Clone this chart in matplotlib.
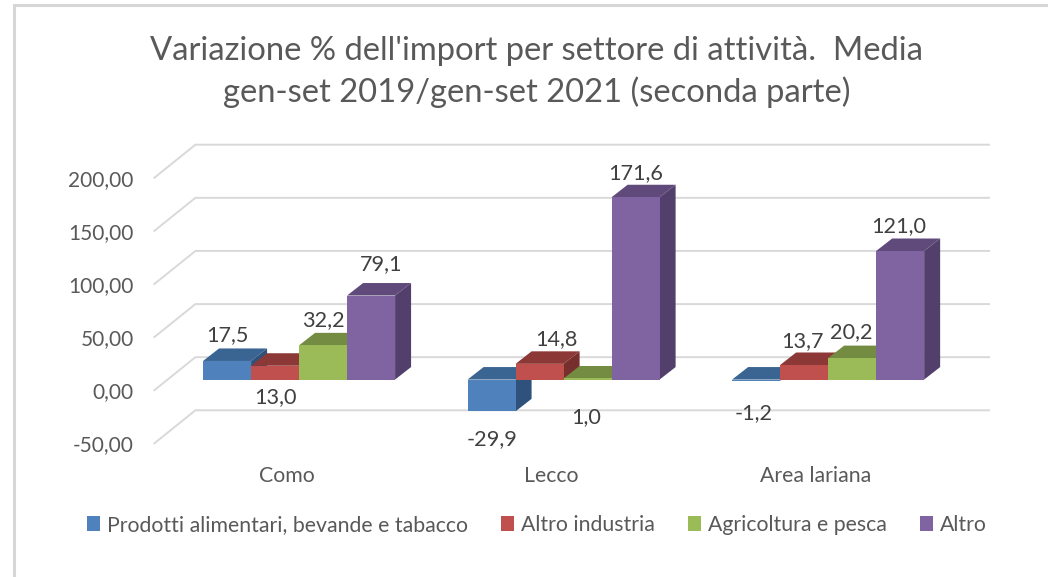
import matplotlib
matplotlib.use("Agg")
import matplotlib.pyplot as plt
from matplotlib.patches import Polygon, Rectangle

# ---- data ----
categories = ["Como", "Lecco", "Area lariana"]
series_names = ["Prodotti alimentari, bevande e tabacco", "Altro industria", "Agricoltura e pesca", "Altro"]
prodotti = [17.5, -29.9, -1.2]
industria = [13.0, 14.8, 13.7]
agricoltura = [32.2, 1.0, 20.2]
altro = [79.1, 171.6, 121.0]
y_ticks = [-50, 0, 50, 100, 150, 200]

# ---- style / layout ----
plt.rcParams["font.family"] = ["Lato", "DejaVu Sans"]
W, H = 1048, 577
TXT = "#595959"
GRID = "#D9D9D9"
front = ["#4F81BD", "#C0504D", "#9BBB59", "#8064A2"]
top_c = ["#3A6491", "#8C3836", "#748C42", "#604A7B"]
side_c = ["#2F527C", "#772F2D", "#637839", "#533F6B"]

px_x, px_y = 264.5, 1.062          # pixels per category / per value unit
wall_dx, wall_dy = 41 / px_x, 33 / px_y
bar_w = 48 / px_x
bar_dx, bar_dy = 16 / px_x, 12.5 / px_y
shift_x, lift = 12.4 / px_x, 10.0  # bars stand inside the floor depth

fig = plt.figure(figsize=(W / 100, H / 100), dpi=100, facecolor="white")
fig.add_artist(Rectangle((14 / W, -0.1), 1.2, 1.1 - 4.5 / H, transform=fig.transFigure,
                         fill=False, edgecolor="#D6D6D6", linewidth=2.2))

ax = fig.add_axes([154.4 / W, 1 - 443.3 / H, (989 - 154.4) / W, (443.3 - 144.7) / H])
ax.patch.set_visible(False)
ax.set_xlim(0, 3 + wall_dx)
ax.set_ylim(-50, 200 + wall_dy)
for s in ax.spines.values():
    s.set_visible(False)

# walls' gridlines
for v in y_ticks:
    ax.plot([0, wall_dx, 3 + wall_dx], [v, v + wall_dy, v + wall_dy],
            color=GRID, lw=1.4, zorder=1, solid_joinstyle="miter", clip_on=False)

values = [prodotti, industria, agricoltura, altro]
handles = []
z = 2
for c in range(len(categories)):
    for s, vals in enumerate(values):
        v = vals[c]
        x0 = c + 0.5 + shift_x + (s - 2) * bar_w
        bars = ax.bar(x0, v, width=bar_w, bottom=lift, align="edge", color=front[s],
                      linewidth=0, zorder=z + 0.2, label=series_names[s] if c == 0 else None)
        if c == 0:
            handles.append(bars[0])
        x1 = x0 + bar_w
        hi = lift + max(v, 0)
        lo = lift + min(v, 0)
        ax.add_patch(Polygon([(x0, hi), (x1, hi), (x1 + bar_dx, hi + bar_dy), (x0 + bar_dx, hi + bar_dy)],
                             closed=True, facecolor=top_c[s], edgecolor="none", zorder=z))
        ax.add_patch(Polygon([(x1, lo), (x1 + bar_dx, lo + bar_dy), (x1 + bar_dx, hi + bar_dy), (x1, hi)],
                             closed=True, facecolor=side_c[s], edgecolor="none", zorder=z + 0.1))
        z += 1

# data labels: pixel offset from the bar's end
offsets = [[(0, 26), (0, -31), (0, 25), (10, 31)],
           [(0, -28), (17, 25), (-1, -39), (0, 24)],
           [(-2, -32), (-2, 24), (-1, 26), (-1, 25)]]
for c in range(len(categories)):
    for s, vals in enumerate(values):
        v = vals[c]
        xc = c + 0.5 + shift_x + (s - 1.5) * bar_w
        ax.annotate(f"{v:.1f}".replace(".", ","), (xc, lift + v), xytext=offsets[c][s],
                    textcoords="offset pixels", ha="center", va="center",
                    fontsize=15.6, color="#404040", zorder=200, annotation_clip=False)

ax.set_yticks(y_ticks)
ax.set_yticklabels([f"{v:.2f}".replace(".", ",") for v in y_ticks], fontsize=15, color=TXT)
ax.set_xticks([0.5, 1.5, 2.5])
ax.set_xticklabels(categories, fontsize=15.3, color=TXT)
ax.tick_params(axis="y", length=0, pad=15)
ax.tick_params(axis="x", length=0, pad=16.5)

fig.text(537 / W, 1 - 72 / H, "Variazione % dell'import per settore di attività.  Media\n"
         "gen-set 2019/gen-set 2021 (seconda parte)", ha="center", va="center",
         fontsize=23.6, color=TXT, linespacing=1.42)

fig.legend(handles, series_names, loc="center left", bbox_to_anchor=(87 / W, 1 - 525 / H),
           ncol=4, frameon=False, fontsize=15.3, labelcolor=TXT,
           handlelength=0.62, handleheight=0.65, handletextpad=0.3, columnspacing=1.58,
           borderpad=0, borderaxespad=0)

fig.savefig("out.png", dpi=100)
